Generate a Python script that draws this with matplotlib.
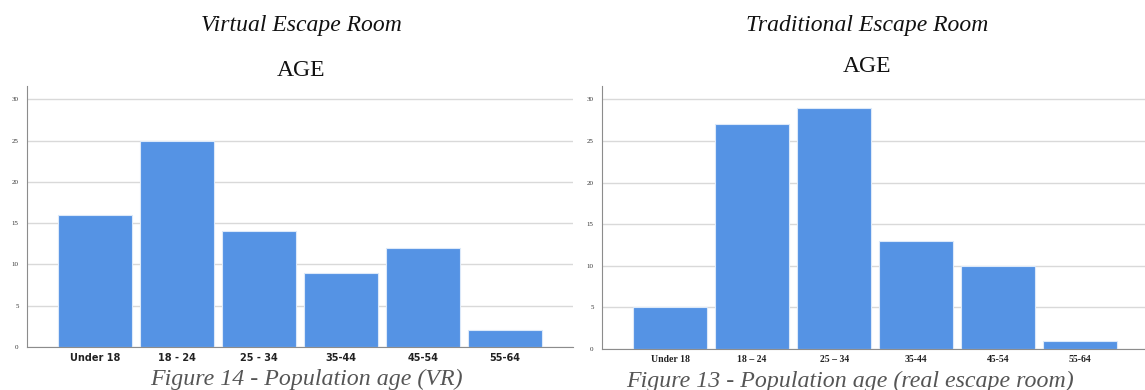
import matplotlib
matplotlib.use("Agg")
import matplotlib.pyplot as plt
from matplotlib.patches import Rectangle

categories_vr = ["Under 18", "18 - 24", "25 - 34", "35-44", "45-54", "55-64"]
values_vr = [16, 25, 14, 9, 12, 2]
categories_trad = ["Under 18", "18 – 24", "25 – 34", "35-44", "45-54", "55-64"]
values_trad = [5, 27, 29, 13, 10, 1]
yticks = [0, 5, 10, 15, 20, 25, 30]

BAR = "#5593e4"
SERIF = "Liberation Serif"

fig = plt.figure(figsize=(11.45, 3.9), dpi=100)

def style(ax, tickfont, tickweight, ticksize):
    ax.set_ylim(0, 31.6)
    ax.set_yticks(yticks)
    ax.yaxis.grid(True, color="#d9d9d9", linewidth=1.0)
    ax.set_axisbelow(True)
    for s in ("top", "right"):
        ax.spines[s].set_visible(False)
    ax.spines["left"].set_color("#8c8c8c")
    ax.spines["bottom"].set_color("#8c8c8c")
    ax.tick_params(axis="both", length=0)
    ax.tick_params(axis="y", pad=6, labelsize=5, labelcolor="#333333")
    for t in ax.get_yticklabels():
        t.set_fontfamily(SERIF)
    ax.tick_params(axis="x", pad=4, labelsize=ticksize, labelcolor="#222222")
    for t in ax.get_xticklabels():
        t.set_fontfamily(tickfont)
        t.set_fontweight(tickweight)

ax1 = fig.add_axes([27/1145, 1-347/390, (573-27)/1145, (347-86)/390])
x1 = range(len(categories_vr))
ax1.bar(x1, values_vr, width=0.9, color=BAR, edgecolor="#dce9f9", linewidth=0.8)
ax1.set_xticks(list(x1))
ax1.set_xticklabels(categories_vr)
ax1.set_xlim(-0.83, 5.83)
style(ax1, "DejaVu Sans", "bold", 7)

ax2 = fig.add_axes([602/1145, 1-349/390, (1145-602)/1145, (349-86)/390])
x2 = range(len(categories_trad))
ax2.bar(x2, values_trad, width=0.9, color=BAR, edgecolor="#dce9f9", linewidth=0.8)
ax2.set_xticks(list(x2))
ax2.set_xticklabels(categories_trad)
ax2.set_xlim(-0.83, 5.79)
style(ax2, SERIF, "bold", 7)

fig.text(301/1145, 1-25/390, "Virtual Escape Room", family=SERIF, style="italic",
         fontsize=17, ha="center", va="center", color="#111111")
fig.text(301/1145, 1-70/390, "AGE", family=SERIF, fontsize=17,
         ha="center", va="center", color="#111111")
fig.text(867/1145, 1-25/390, "Traditional Escape Room", family=SERIF, style="italic",
         fontsize=17, ha="center", va="center", color="#111111")
fig.text(867/1145, 1-66/390, "AGE", family=SERIF, fontsize=17,
         ha="center", va="center", color="#111111")

fig.text(306/1145, 1-379/390, "Figure 14 - Population age (VR)", family=SERIF,
         style="italic", fontsize=17.2, ha="center", va="center", color="#555555")
fig.text(850/1145, 1-381/390, "Figure 13 - Population age (real escape room)", family=SERIF,
         style="italic", fontsize=17.2, ha="center", va="center", color="#555555")
# the upper edge of the right caption is hidden by the chart image above it
fig.add_artist(Rectangle((615/1145, 1-371/390), 500/1145, 7/390,
                         transform=fig.transFigure, facecolor="white",
                         edgecolor="none", zorder=10))

fig.savefig("out.png", dpi=100)
